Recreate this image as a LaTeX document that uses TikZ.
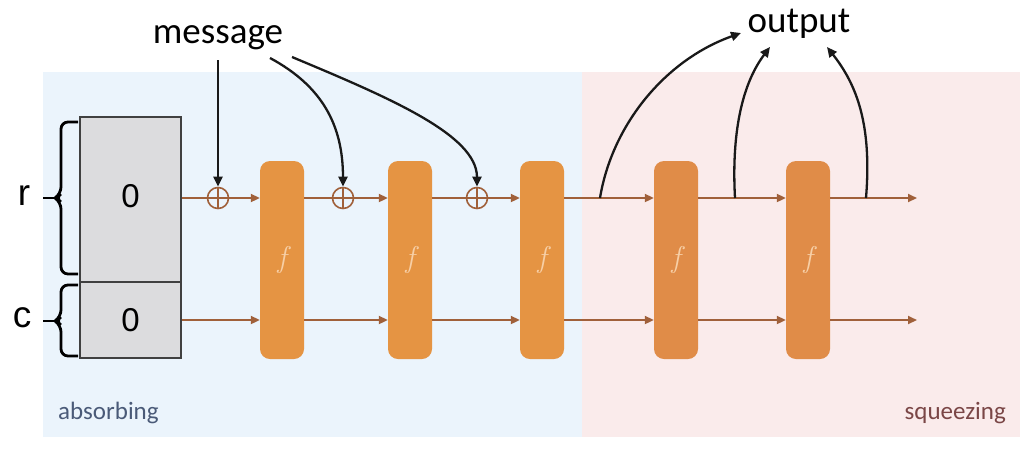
\documentclass[tikz,border=0pt]{standalone}
\usepackage{fontspec}
\usetikzlibrary{arrows.meta}
\newfontfamily\calfont{Carlito}
\newfontfamily\arialfont{Liberation Sans}
\definecolor{bgblue}{HTML}{EBF4FC}
\definecolor{bgpink}{HTML}{FAEBEB}
\definecolor{fboxA}{HTML}{E59443}
\definecolor{fboxB}{HTML}{E08C48}
\definecolor{flab}{HTML}{F7CFA6}
\definecolor{brn}{HTML}{A0603A}
\definecolor{grayfill}{HTML}{DCDCDE}
\definecolor{absc}{HTML}{4A5A78}
\definecolor{sqzc}{HTML}{7A4646}
\tikzset{
  grayrect/.style={draw=black!75,line width=2pt,fill=grayfill,inner sep=0pt,
    font=\arialfont\fontsize{33}{33}\selectfont},
  fbox/.style={fill=fboxA,rounded corners=10pt,minimum width=44pt,minimum height=198pt,
    inner sep=0pt,text=flab,font=\itshape\fontsize{30}{30}\selectfont},
  plusnode/.style={circle,draw=brn,line width=1.6pt,minimum size=21pt,inner sep=0pt,
    path picture={\draw[brn,line width=1.6pt] (path picture bounding box.north) -- (path picture bounding box.south);}},
  brarrow/.style={draw=brn,line width=2pt,-{Triangle[length=9pt,width=8pt]}},
  blkarrow/.style={draw=black!90,line width=2.3pt,-{Triangle[length=10pt,width=9pt]}},
  bigtext/.style={font=\calfont\fontsize{37}{37}\selectfont,inner sep=0pt},
  rctext/.style={font=\arialfont\fontsize{37}{37}\selectfont,inner sep=0pt},
  bracestyle/.style={draw=black,line width=2.8pt,rounded corners=7pt}
}
\begin{document}
\begin{tikzpicture}[x=1pt,y=-1pt]
\useasboundingbox (0,0) rectangle (1036,456);
% backgrounds
\fill[bgblue] (43,72) rectangle (582,437);
\fill[bgpink] (582,72) rectangle (1020,437);
\node[font=\calfont\fontsize{25}{25}\selectfont,text=absc,anchor=base west,inner sep=0pt] (absorb) at (58,419) {absorbing};
\node[font=\calfont\fontsize{25}{25}\selectfont,text=sqzc,anchor=base east,inner sep=0pt] (squeeze) at (1006,419) {squeezing};
% state boxes
\node[grayrect,minimum width=101pt,minimum height=165pt] (r0) at (130.5,199.5) {\raisebox{8pt}{0}};
\node[grayrect,minimum width=101pt,minimum height=76pt] (c0) at (130.5,320) {\raisebox{-1pt}{0}};
% braces
\draw[bracestyle] (78,122) -- (61,122) -- (61,194) -- (55,198) -- (61,202) -- (61,274) -- (78,274);
\draw[black,line width=2.8pt] (43,198) -- (57,198);
\draw[bracestyle] (78,285) -- (61,285) -- (61,317) -- (55,321) -- (61,325) -- (61,356) -- (78,356);
\draw[black,line width=2.8pt] (43,321) -- (57,321);
\node[rctext] (rlab) at (24,196) {r};
\node[rctext] (clab) at (22,318) {c};
% f boxes
\node[fbox] (f1) at (282,260) {f};
\node[fbox] (f2) at (410,260) {f};
\node[fbox] (f3) at (542,260) {f};
\node[fbox,fill=fboxB] (f4) at (676,260) {f};
\node[fbox,fill=fboxB] (f5) at (808,260) {f};
% coordinates
\coordinate (o1) at (600,198);
\coordinate (o2) at (735,198);
\coordinate (o3) at (866,198);
\coordinate (e1) at (917,198);
\coordinate (e2) at (917,320);
% top lane
\draw[brarrow] (r0.east |- o1) -- (f1.west |- o1);
\draw[brarrow] (f1.east |- o1) -- (f2.west |- o1);
\draw[brarrow] (f2.east |- o1) -- (f3.west |- o1);
\draw[brarrow] (f3.east |- o1) -- (f4.west |- o1);
\draw[brarrow] (f4.east |- o1) -- (f5.west |- o1);
\draw[brarrow] (f5.east |- o1) -- (e1);
% bottom lane
\draw[brarrow] (c0.east) -- (f1.west |- c0.east);
\draw[brarrow] (f1.east |- c0.east) -- (f2.west |- c0.east);
\draw[brarrow] (f2.east |- c0.east) -- (f3.west |- c0.east);
\draw[brarrow] (f3.east |- c0.east) -- (f4.west |- c0.east);
\draw[brarrow] (f4.east |- c0.east) -- (f5.west |- c0.east);
\draw[brarrow] (f5.east |- c0.east) -- (e2);
% xor nodes
\node[plusnode] (p1) at (218,198) {};
\node[plusnode] (p2) at (343,198) {};
\node[plusnode] (p3) at (477,198) {};
% message
\node[bigtext,anchor=base] (msg) at (218,43) {message};
\coordinate (m1) at (218,60);
\coordinate (m2) at (270,58);
\coordinate (m3) at (292,57);
\draw[blkarrow] (m1) -- (p1.north);
\draw[blkarrow] (m2) .. controls (322,86) and (343,125) .. (p2.north);
\draw[blkarrow] (m3) .. controls (390,98) and (477,135) .. (p3.north);
% output
\node[bigtext,anchor=base] (out) at (799,32) {output};
\coordinate (oa) at (741,33);
\coordinate (ob) at (770,47);
\coordinate (oc) at (827,47);
\draw[blkarrow] (o1) .. controls (612,125) and (665,60) .. (oa);
\draw[blkarrow] (o2) .. controls (731,125) and (745,80) .. (ob);
\draw[blkarrow] (o3) .. controls (872,125) and (857,85) .. (oc);
\end{tikzpicture}
\end{document}
